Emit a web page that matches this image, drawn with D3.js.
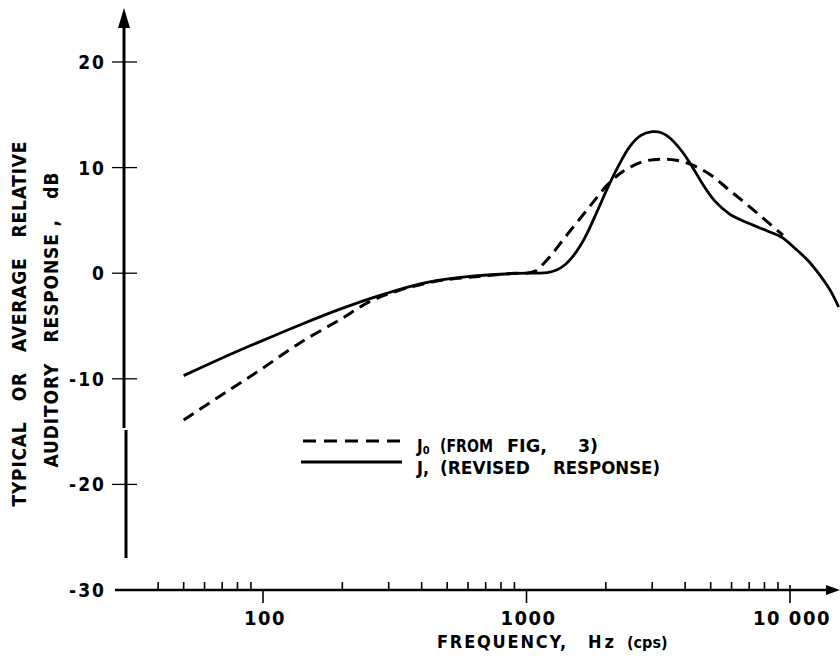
<!DOCTYPE html>
<html>
<head>
<meta charset="utf-8">
<script src="https://cdn.jsdelivr.net/npm/d3@7"></script>
<style>
  body { margin: 0; background: #fff; }
  svg text { font-family: "Liberation Sans Narrow", "DejaVu Sans Condensed", "Arial Narrow", sans-serif; fill: #000; white-space: pre; }
</style>
</head>
<body>
<svg id="chart" width="840" height="659"></svg>
<script>
// J0 (from fig. 3), dashed
var j0Freq = [50, 69, 97, 138, 196, 254, 331, 469, 668, 900, 1000, 1080, 1150, 1250, 1400, 1600, 1800, 2000, 2250, 2500, 2800, 3200, 3700, 4300, 5000, 5800, 6800, 8000, 9400];
var j0Db = [-13.9, -11.6, -9.2, -6.6, -4.4, -2.7, -1.6, -0.7, -0.3, 0, 0, 0.2, 0.8, 1.8, 3.4, 5.2, 6.8, 8.2, 9.4, 10.1, 10.6, 10.8, 10.7, 10.2, 9.3, 8.0, 6.6, 5.1, 3.6];

// J1 (revised response), solid
var j1Freq = [50, 69, 97, 138, 196, 278, 395, 560, 794, 1000, 1100, 1200, 1300, 1400, 1500, 1600, 1700, 1850, 2050, 2250, 2450, 2700, 3000, 3250, 3500, 3900, 4300, 4700, 5200, 5900, 7000, 8200, 9300, 10500, 11700, 13000, 14200, 15300];
var j1Db = [-9.7, -8.1, -6.5, -4.9, -3.4, -2.1, -1.0, -0.4, -0.1, 0, 0, 0.05, 0.3, 0.8, 1.6, 2.6, 3.8, 5.8, 8.3, 10.3, 11.9, 13.0, 13.4, 13.3, 12.8, 11.5, 9.9, 8.3, 6.8, 5.6, 4.7, 4.0, 3.4, 2.3, 1.2, -0.2, -1.6, -3.2];

var yTicks = [20, 10, 0, -10, -20, -30];
var xMajor = [100, 1000, 10000];
var xMajorLabels = ["100", "1000", "10 000"];
var xMinor = [40, 50, 60, 70, 80, 90, 200, 300, 400, 500, 600, 700, 800, 900, 2000, 3000, 4000, 5000, 6000, 7000, 8000, 9000];

var svg = d3.select("#chart");

var x = d3.scaleLog().domain([100, 10000]).range([263, 790]);
var y = d3.scaleLinear().domain([-30, 20]).range([590, 62]);

// y axis (broken line with arrow on top)
var y0 = y(-30);
svg.append("path")
  .attr("d", "M124,20 L124,428 M126,430 L126,558")
  .attr("stroke", "#000").attr("stroke-width", 3).attr("fill", "none");
svg.append("path")
  .attr("d", "M124,8 L118,28 L130,28 Z")
  .attr("fill", "#000");

// y ticks
svg.selectAll(".ytick")
  .data(yTicks.filter(function (d) { return d > -30; }))
  .enter()
  .append("line")
  .attr("x1", 112).attr("x2", 137)
  .attr("y1", function (d) { return y(d); })
  .attr("y2", function (d) { return y(d); })
  .attr("stroke", "#000").attr("stroke-width", 1.3);

svg.selectAll(".ylab")
  .data(yTicks)
  .enter()
  .append("text")
  .attr("x", 106)
  .attr("y", function (d) { return y(d) + 7; })
  .attr("text-anchor", "end")
  .attr("font-size", 19)
  .attr("font-weight", "bold")
  .attr("letter-spacing", 2)
  .text(function (d) { return d; });

// x axis with arrow
svg.append("line")
  .attr("x1", 115).attr("x2", 830)
  .attr("y1", y0).attr("y2", y0)
  .attr("stroke", "#000").attr("stroke-width", 2.5);
svg.append("path")
  .attr("d", "M840," + y0 + " L826," + (y0 - 5) + " L826," + (y0 + 5) + " Z")
  .attr("fill", "#000");

svg.selectAll(".minor")
  .data(xMinor)
  .enter()
  .append("line")
  .attr("x1", function (d) { return x(d); })
  .attr("x2", function (d) { return x(d); })
  .attr("y1", y0 - 8).attr("y2", y0)
  .attr("stroke", "#000").attr("stroke-width", 1.6);

svg.selectAll(".major")
  .data(xMajor)
  .enter()
  .append("line")
  .attr("x1", function (d) { return x(d); })
  .attr("x2", function (d) { return x(d); })
  .attr("y1", function (d) { return d == 10000 ? y0 - 5 : y0; })
  .attr("y2", y0 + 13)
  .attr("stroke", "#000").attr("stroke-width", 1.6);

svg.selectAll(".xlab")
  .data(xMajor)
  .enter()
  .append("text")
  .attr("x", function (d) { return x(d) + 2; })
  .attr("y", 625)
  .attr("text-anchor", "middle")
  .attr("font-size", 20)
  .attr("font-weight", "bold")
  .attr("letter-spacing", 1.5)
  .text(function (d, i) { return xMajorLabels[i]; });

// x axis title
svg.append("text")
  .attr("x", 437).attr("y", 648)
  .attr("font-size", 18).attr("font-weight", "bold")
  .attr("letter-spacing", 1.8)
  .text("FREQUENCY,");
svg.append("text")
  .attr("x", 588).attr("y", 648)
  .attr("font-size", 18).attr("font-weight", "bold")
  .attr("letter-spacing", 3)
  .text("Hz");
svg.append("text")
  .attr("x", 627).attr("y", 648)
  .attr("font-size", 16).attr("font-weight", "bold")
  .text("(cps)");

// y axis title, two rotated lines
svg.append("text")
  .attr("transform", "translate(26,324) rotate(-90)")
  .attr("text-anchor", "middle")
  .attr("font-size", 19).attr("font-weight", "bold")
  .attr("textLength", 365).attr("lengthAdjust", "spacing")
  .text("TYPICAL   OR   AVERAGE   RELATIVE");
svg.append("text")
  .attr("transform", "translate(58,320) rotate(-90)")
  .attr("text-anchor", "middle")
  .attr("font-size", 19).attr("font-weight", "bold")
  .attr("textLength", 295).attr("lengthAdjust", "spacing")
  .text("AUDITORY   RESPONSE ,   dB");

// curves
var line = d3.line()
  .x(function (d) { return x(d[0]); })
  .y(function (d) { return y(d[1]); })
  .curve(d3.curveCatmullRom.alpha(0.5));

svg.append("path")
  .datum(d3.zip(j0Freq, j0Db))
  .attr("d", line)
  .attr("fill", "none").attr("stroke", "#000")
  .attr("stroke-width", 3).attr("stroke-dasharray", "12,7");

svg.append("path")
  .datum(d3.zip(j1Freq, j1Db))
  .attr("d", line)
  .attr("fill", "none").attr("stroke", "#000")
  .attr("stroke-width", 2.8);

// legend
svg.append("line")
  .attr("x1", 303).attr("x2", 402).attr("y1", 441).attr("y2", 441)
  .attr("stroke", "#000").attr("stroke-width", 3.2).attr("stroke-dasharray", "13,8");
svg.append("line")
  .attr("x1", 301).attr("x2", 402).attr("y1", 462).attr("y2", 462)
  .attr("stroke", "#000").attr("stroke-width", 2.8);

function legendWord(txt, x0, yb, len) {
  svg.append("text").attr("x", x0).attr("y", yb)
    .attr("font-size", 17).attr("font-weight", "bold")
    .attr("textLength", len).attr("lengthAdjust", "spacingAndGlyphs")
    .text(txt);
}

var leg1 = svg.append("text").attr("y", 452).attr("font-size", 17).attr("font-weight", "bold");
leg1.append("tspan").attr("x", 417).text("J");
leg1.append("tspan").attr("dy", 1.5).attr("font-size", 11).text("0");
legendWord("(FROM", 440, 452, 53);
legendWord("FIG,", 507, 452, 40);
legendWord("3)", 578, 452, 20);

legendWord("J,", 417, 474, 12);
legendWord("(REVISED", 440, 474, 90);
legendWord("RESPONSE)", 553, 474, 107);
</script>
</body>
</html>
